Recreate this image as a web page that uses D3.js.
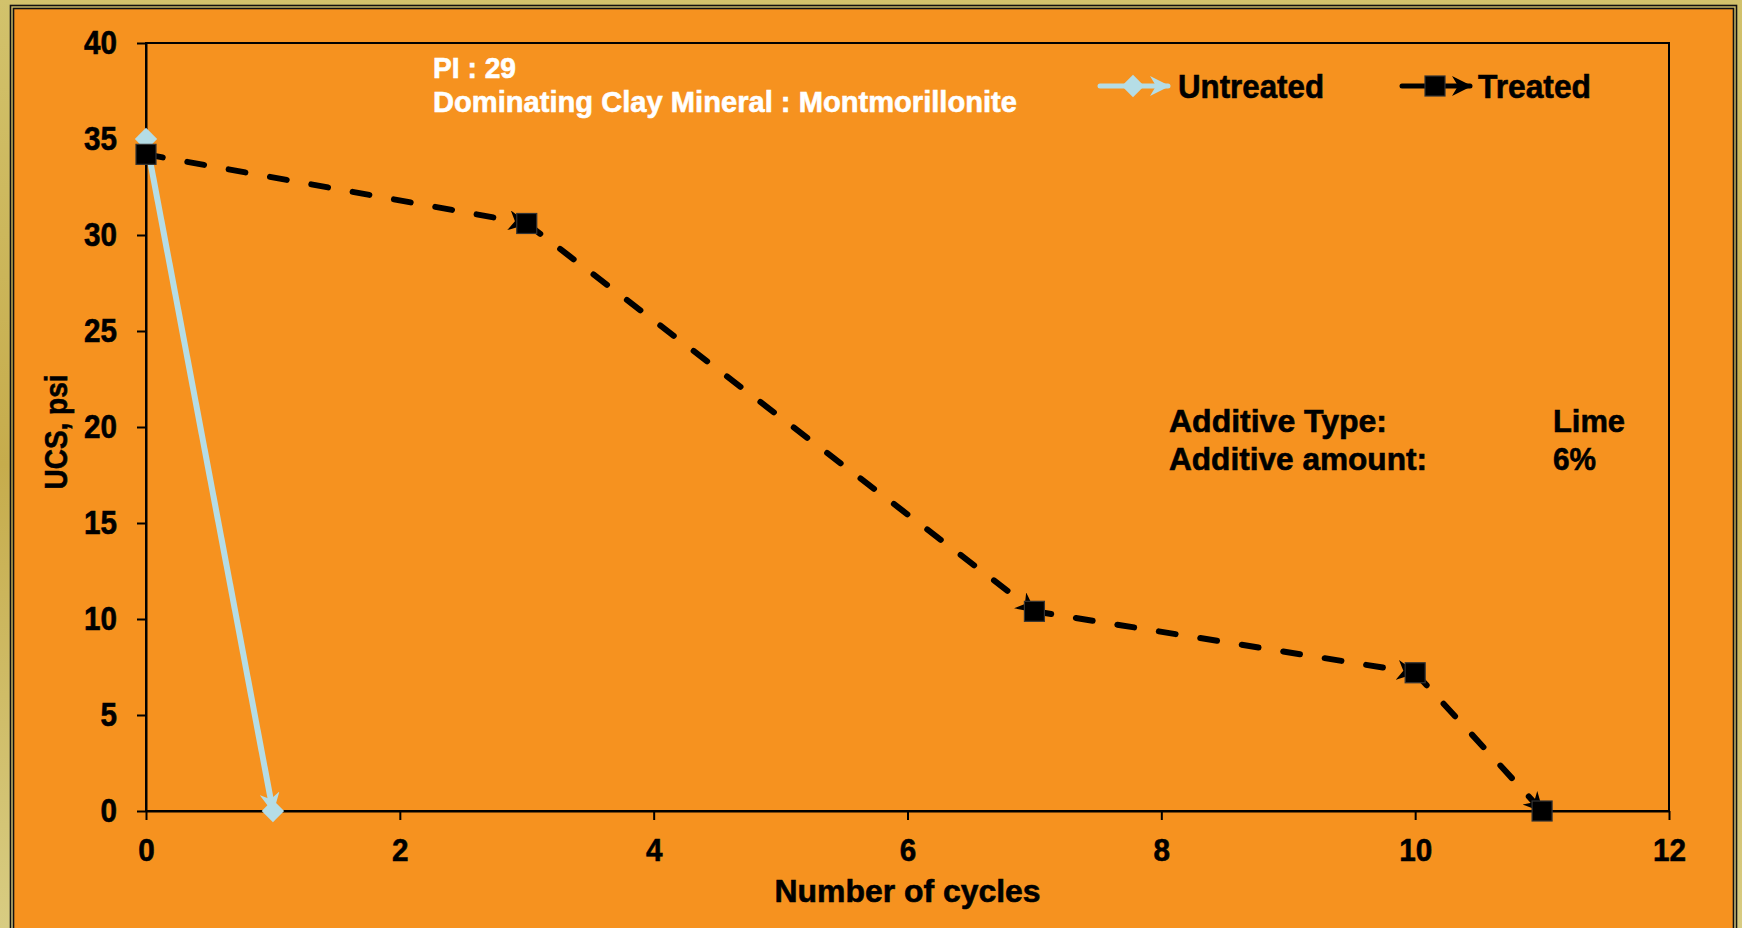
<!DOCTYPE html>
<html>
<head>
<meta charset="utf-8">
<script src="https://cdn.jsdelivr.net/npm/d3@7"></script>
<style>
  body { margin: 0; background: #cdb95f; }
  svg { display: block; }
  text { font-family: "Liberation Sans", Arial, sans-serif; font-weight: bold; }
</style>
</head>
<body>
<div id="chart"></div>
<script>
// data
const cyclesUntreated = [0, 1];
const ucsUntreated = [35, 0];
const cyclesTreated = [0, 3, 7, 10, 11];
const ucsTreated = [34.2, 30.6, 10.4, 7.2, 0];
const xTicks = [0, 2, 4, 6, 8, 10, 12];
const yTicks = [0, 5, 10, 15, 20, 25, 30, 35, 40];
const seriesNames = ["Untreated", "Treated"];

const width = 1742;
const height = 928;
const margin = { top: 43, right: 73, bottom: 117, left: 146 };

const svg = d3.select("#chart")
  .append("svg")
  .attr("width", width)
  .attr("height", height);

// gold background + double frame
const defs = svg.append("defs");
const grad = defs.append("linearGradient")
  .attr("id", "gold")
  .attr("x1", "0").attr("y1", "0").attr("x2", "0").attr("y2", "1");
grad.append("stop").attr("offset", "0").attr("stop-color", "#d2c26c");
grad.append("stop").attr("offset", "0.5").attr("stop-color", "#c6ac4c");
grad.append("stop").attr("offset", "1").attr("stop-color", "#d8cc82");

svg.append("rect")
  .attr("width", width).attr("height", height)
  .attr("fill", "url(#gold)");

svg.append("rect")
  .attr("x", 10.5).attr("y", 5.5)
  .attr("width", 1726).attr("height", 940)
  .attr("fill", "none")
  .attr("stroke", "#111").attr("stroke-width", 1.6);

svg.append("rect")
  .attr("x", 13.5).attr("y", 8.5)
  .attr("width", 1720).attr("height", 940)
  .attr("fill", "#f6921f")
  .attr("stroke", "#111").attr("stroke-width", 1.6);

// arrow heads (stealth style)
function arrow(id, color) {
  defs.append("marker")
    .attr("id", id)
    .attr("viewBox", "0 0 10 10")
    .attr("refX", 9).attr("refY", 5)
    .attr("markerUnits", "userSpaceOnUse")
    .attr("markerWidth", 20).attr("markerHeight", 20)
    .attr("orient", "auto")
    .append("path")
    .attr("d", "M0,0 L10,5 L0,10 L3,5 Z")
    .attr("fill", color);
}
arrow("arrowBlue", "#b5dde6");
arrow("arrowBlack", "#000");

const x = d3.scaleLinear()
  .domain([0, 12])
  .range([margin.left, width - margin.right]);

const y = d3.scaleLinear()
  .domain([0, 40])
  .range([height - margin.bottom, margin.top]);

// plot frame
svg.append("rect")
  .attr("x", x(0)).attr("y", y(40))
  .attr("width", x(12) - x(0)).attr("height", y(0) - y(40))
  .attr("fill", "none")
  .attr("stroke", "#000").attr("stroke-width", 2);

function boldText(sel, color) {
  sel.attr("fill", color || "#000")
    .attr("stroke", color || "#000")
    .attr("stroke-width", 0.6);
}

// Y axis
const yAxis = svg.append("g")
  .attr("transform", `translate(${x(0)},0)`)
  .call(d3.axisLeft(y).tickValues(yTicks).tickSize(9).tickSizeOuter(0).tickPadding(20));
yAxis.selectAll("line, path").attr("stroke", "#000").attr("stroke-width", 2);
yAxis.selectAll("text")
  .attr("font-size", 33)
  .attr("font-family", "'Liberation Sans', Arial, sans-serif")
  .attr("font-weight", "bold")
  .attr("textLength", d => String(d).length * 16.5)
  .attr("lengthAdjust", "spacingAndGlyphs")
  .call(boldText);

// X axis
const xAxis = svg.append("g")
  .attr("transform", `translate(0,${y(0)})`)
  .call(d3.axisBottom(x).tickValues(xTicks).tickSize(9).tickSizeOuter(0).tickPadding(18));
xAxis.selectAll("line, path").attr("stroke", "#000").attr("stroke-width", 2);
xAxis.selectAll("text")
  .attr("font-size", 32)
  .attr("font-family", "'Liberation Sans', Arial, sans-serif")
  .attr("font-weight", "bold")
  .attr("textLength", d => String(d).length * 16.5)
  .attr("lengthAdjust", "spacingAndGlyphs")
  .call(boldText);

// axis titles
svg.append("text")
  .attr("x", (x(0) + x(12)) / 2)
  .attr("y", 902)
  .attr("text-anchor", "middle")
  .attr("font-size", 32)
  .attr("textLength", 266)
  .attr("lengthAdjust", "spacingAndGlyphs")
  .text("Number of cycles")
  .call(boldText);

svg.append("text")
  .attr("transform", "rotate(-90)")
  .attr("x", -432)
  .attr("y", 67)
  .attr("text-anchor", "middle")
  .attr("font-size", 31)
  .attr("textLength", 115)
  .attr("lengthAdjust", "spacingAndGlyphs")
  .text("UCS, psi")
  .call(boldText);

// series lines, one segment per pair so each gets an arrow end
function segments(xs, ys) {
  return d3.pairs(d3.zip(xs, ys));
}

svg.append("g")
  .selectAll("line")
  .data(segments(cyclesUntreated, ucsUntreated))
  .join("line")
  .attr("x1", d => x(d[0][0])).attr("y1", d => y(d[0][1]))
  .attr("x2", d => x(d[1][0])).attr("y2", d => y(d[1][1]))
  .attr("stroke", "#b5dde6")
  .attr("stroke-width", 6)
  .attr("marker-end", "url(#arrowBlue)");

svg.append("g")
  .selectAll("line")
  .data(segments(cyclesTreated, ucsTreated))
  .join("line")
  .attr("x1", d => x(d[0][0])).attr("y1", d => y(d[0][1]))
  .attr("x2", d => x(d[1][0])).attr("y2", d => y(d[1][1]))
  .attr("stroke", "#000")
  .attr("stroke-width", 6)
  .attr("stroke-linecap", "round")
  .attr("stroke-dasharray", "17 25")
  .attr("marker-end", "url(#arrowBlack)");

// markers
const diamond = d3.symbol().type(d3.symbolDiamond2).size(320);
svg.append("g")
  .selectAll("path")
  .data(d3.zip(cyclesUntreated, ucsUntreated))
  .join("path")
  .attr("d", diamond)
  .attr("transform", d => `translate(${x(d[0])},${y(d[1])})`)
  .attr("fill", "#b5dde6");

svg.append("g")
  .selectAll("rect")
  .data(d3.zip(cyclesTreated, ucsTreated))
  .join("rect")
  .attr("x", d => x(d[0]) - 10).attr("y", d => y(d[1]) - 10)
  .attr("width", 20).attr("height", 20)
  .attr("fill", "#000")
  .attr("stroke", "#333").attr("stroke-width", 1.2);

// legend
const legY = 86;
const leg = svg.append("g");
leg.append("line")
  .attr("x1", 1100).attr("y1", legY).attr("x2", 1168).attr("y2", legY)
  .attr("stroke", "#b5dde6").attr("stroke-width", 5).attr("stroke-linecap", "round")
  .attr("marker-end", "url(#arrowBlue)");
leg.append("path")
  .attr("d", diamond)
  .attr("transform", `translate(1133,${legY})`)
  .attr("fill", "#b5dde6");
leg.append("text")
  .attr("x", 1178).attr("y", 98)
  .attr("font-size", 33)
  .attr("textLength", 146)
  .attr("lengthAdjust", "spacingAndGlyphs")
  .text(seriesNames[0])
  .call(boldText);

leg.append("line")
  .attr("x1", 1402).attr("y1", legY).attr("x2", 1470).attr("y2", legY)
  .attr("stroke", "#000").attr("stroke-width", 5).attr("stroke-linecap", "round")
  .attr("marker-end", "url(#arrowBlack)");
leg.append("rect")
  .attr("x", 1425).attr("y", legY - 10)
  .attr("width", 20).attr("height", 20)
  .attr("fill", "#000").attr("stroke", "#333").attr("stroke-width", 1.2);
leg.append("text")
  .attr("x", 1478).attr("y", 98)
  .attr("font-size", 33)
  .attr("textLength", 113)
  .attr("lengthAdjust", "spacingAndGlyphs")
  .text(seriesNames[1])
  .call(boldText);

// annotations
svg.append("text")
  .attr("x", 433).attr("y", 78)
  .attr("font-size", 29)
  .attr("textLength", 83).attr("lengthAdjust", "spacingAndGlyphs")
  .text("PI : 29")
  .call(boldText, "#fff");
svg.append("text")
  .attr("x", 433).attr("y", 112)
  .attr("font-size", 30)
  .attr("textLength", 584).attr("lengthAdjust", "spacingAndGlyphs")
  .text("Dominating Clay Mineral : Montmorillonite")
  .call(boldText, "#fff");

const notes = [
  ["Additive Type:", 218, "Lime", 72, 432],
  ["Additive amount:", 258, "6%", 43, 470]
];
notes.forEach(n => {
  svg.append("text")
    .attr("x", 1169).attr("y", n[4])
    .attr("font-size", 31)
    .attr("textLength", n[1]).attr("lengthAdjust", "spacingAndGlyphs")
    .text(n[0])
    .call(boldText);
  svg.append("text")
    .attr("x", 1553).attr("y", n[4])
    .attr("font-size", 31)
    .attr("textLength", n[3]).attr("lengthAdjust", "spacingAndGlyphs")
    .text(n[2])
    .call(boldText);
});
</script>
</body>
</html>
